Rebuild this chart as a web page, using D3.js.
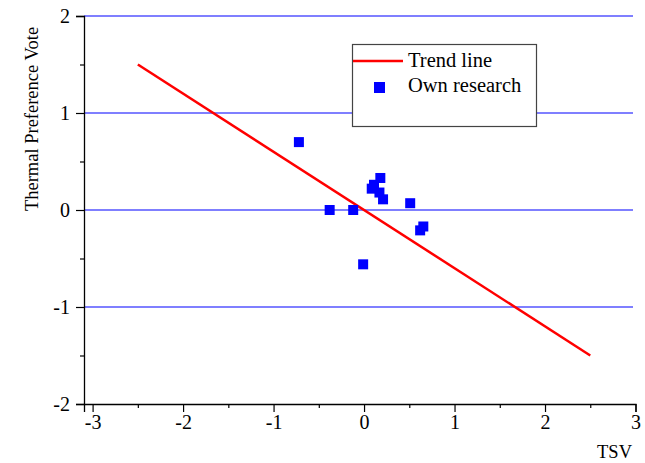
<!DOCTYPE html>
<html>
<head>
<meta charset="utf-8">
<script src="https://cdn.jsdelivr.net/npm/d3@7"></script>
<style>
  body { margin: 0; background: #fff; }
  text { font-family: "Liberation Serif", "Times New Roman", serif; }
</style>
</head>
<body>
<div id="container"></div>
<script>
/* DATA */
const tsv = [-0.72, -0.38, -0.12, -0.01, 0.18, 0.11, 0.085, 0.17, 0.21, 0.51, 0.655, 0.62];
const tpv = [0.70, 0.0, 0.0, -0.56, 0.33, 0.26, 0.22, 0.18, 0.11, 0.07, -0.17, -0.21];
const trendX = [-2.5, 2.5];
const trendY = [1.5, -1.5];
const xTicks = [-3, -2, -1, 0, 1, 2, 3];
const yTicks = [-2, -1, 0, 1, 2];
const gridY = [-1, 0, 1, 2];

/* CONSTANTS */
const width = 645, height = 463;
const margin = { top: 16, right: 10, bottom: 59, left: 84 };

const xScale = d3.scaleLinear()
  .domain([-3.095, 3])
  .range([margin.left, 635.5]);

const yScale = d3.scaleLinear()
  .domain([-2, 2])
  .range([height - margin.bottom, margin.top]);

const svg = d3.select('#container')
  .append('svg')
  .attr('width', width)
  .attr('height', height);

// grid lines
svg.selectAll('line.grid')
  .data(gridY)
  .join('line')
  .attr('class', 'grid')
  .attr('x1', margin.left)
  .attr('x2', 633)
  .attr('y1', d => yScale(d))
  .attr('y2', d => yScale(d))
  .attr('stroke', '#0000ff')
  .attr('stroke-width', 1.2);

// axes
const fmt = d => String(d);

const xAxis = svg.append('g')
  .attr('transform', `translate(0, ${yScale(-2)})`)
  .call(d3.axisBottom(xScale).tickValues(xTicks).tickSize(8).tickPadding(3).tickFormat(fmt));

const xMinor = svg.append('g')
  .attr('transform', `translate(0, ${yScale(-2)})`)
  .call(d3.axisBottom(xScale).tickValues(d3.range(-2.5, 3, 1)).tickSize(4).tickFormat(''));
xMinor.select('.domain').remove();

const yAxis = svg.append('g')
  .attr('transform', `translate(${margin.left}, 0)`)
  .call(d3.axisLeft(yScale).tickValues(yTicks).tickSize(8).tickPadding(6).tickFormat(fmt));

const yMinor = svg.append('g')
  .attr('transform', `translate(${margin.left}, 0)`)
  .call(d3.axisLeft(yScale).tickValues(d3.range(-1.5, 2, 1)).tickSize(4).tickFormat(''));
yMinor.select('.domain').remove();

svg.selectAll('.domain').attr('stroke', '#000').attr('stroke-width', 1.3);
svg.selectAll('.tick line').attr('stroke', '#000').attr('stroke-width', 1.2);
svg.selectAll('.tick text')
  .attr('font-family', '"Liberation Serif", serif')
  .attr('font-size', 20)
  .attr('fill', '#000');

// trend line
const line = d3.line()
  .x(d => xScale(d[0]))
  .y(d => yScale(d[1]));

svg.append('path')
  .datum(trendX.map((x, i) => [x, trendY[i]]))
  .attr('d', line)
  .attr('fill', 'none')
  .attr('stroke', '#ff0000')
  .attr('stroke-width', 2.5);

// points
const sq = 10;
svg.selectAll('rect.pt')
  .data(tsv.map((x, i) => ({ x: x, y: tpv[i] })))
  .join('rect')
  .attr('class', 'pt')
  .attr('x', d => xScale(d.x) - sq / 2)
  .attr('y', d => yScale(d.y) - sq / 2)
  .attr('width', sq)
  .attr('height', sq)
  .attr('fill', '#0000ff');

// legend
const legend = svg.append('g');
legend.append('rect')
  .attr('x', 352.5).attr('y', 44.5)
  .attr('width', 184).attr('height', 82)
  .attr('fill', '#fff')
  .attr('stroke', '#444')
  .attr('stroke-width', 1.2);
legend.append('line')
  .attr('x1', 353).attr('x2', 403)
  .attr('y1', 61).attr('y2', 61)
  .attr('stroke', '#ff0000')
  .attr('stroke-width', 2.5);
legend.append('rect')
  .attr('x', 374).attr('y', 82)
  .attr('width', 11).attr('height', 11)
  .attr('fill', '#0000ff');
legend.append('text')
  .attr('x', 408).attr('y', 67)
  .attr('font-size', 20.5)
  .text('Trend line');
legend.append('text')
  .attr('x', 408).attr('y', 92)
  .attr('font-size', 20.5)
  .text('Own research');

// axis titles
svg.append('text')
  .attr('transform', 'rotate(-90)')
  .attr('x', -119)
  .attr('y', 38)
  .attr('text-anchor', 'middle')
  .attr('font-size', 18.5)
  .text('Thermal Preference Vote');

svg.append('text')
  .attr('x', 632)
  .attr('y', 458)
  .attr('text-anchor', 'end')
  .attr('font-size', 18.5)
  .text('TSV');
</script>
</body>
</html>
